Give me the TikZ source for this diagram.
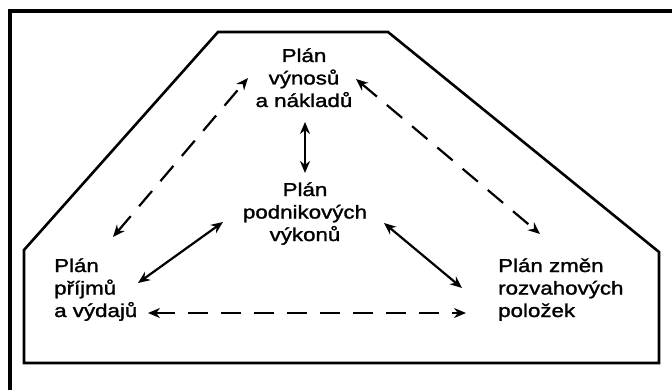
\documentclass[tikz,border=0pt]{standalone}
\usepackage{fontspec}
\setmainfont{Liberation Sans}[FakeStretch=1.2,FakeBold=1.5]
\usetikzlibrary{arrows.meta}

\begin{document}
\begin{tikzpicture}[
  x=1pt,y=-1pt,
  every node/.style={font=\fontsize{18.6}{22.5}\selectfont,inner sep=0pt},
  plan/.style={align=center,anchor=base},
  planl/.style={align=left,anchor=base west},
  arr/.style={{Stealth[length=12pt,width=10pt]}-{Stealth[length=12pt,width=10pt]},line width=2.2pt},
  darr/.style={arr,dash pattern=on 20pt off 13pt},
]
  \useasboundingbox (0,0) rectangle (672,390);

  % Frame (top and left edge)
  \draw[line width=3.8pt] (10,390) -- (10,11) -- (672,11);

  % House-shaped outline
  \draw[line width=2.6pt] (24,363) -- (24,250) -- (218,32) -- (388,32)
    -- (659,252) -- (659,363) -- cycle;

  % Plans (anchored on the baseline of the last line)
  \node[plan] (vynosy) at (304,107) {Plán\\výnosů\\a nákladů};
  \node[plan] (podnik) at (305,241) {Plán\\podnikových\\výkonů};
  \node[planl] (prijmy) at (54,317) {Plán\\příjmů\\a výdajů};
  \node[planl] (zmeny) at (498,317) {Plán změn\\rozvahových\\položek};

  % Arrow ends next to each plan
  \coordinate (vynosy-sw) at (248,78);
  \coordinate (vynosy-s)  at (305,122);
  \coordinate (vynosy-se) at (356,79);
  \coordinate (podnik-n)  at (305,173);
  \coordinate (podnik-sw) at (223,222);
  \coordinate (podnik-se) at (384,223);
  \coordinate (prijmy-n)  at (113,237);
  \coordinate (prijmy-ne) at (138,283);
  \coordinate (prijmy-e)  at (148,313);
  \coordinate (zmeny-n)   at (540,234);
  \coordinate (zmeny-nw)  at (462,288);
  \coordinate (zmeny-w)   at (466,313);

  % Links between plans
  \draw[arr] (vynosy-s) -- (podnik-n);
  \draw[arr] (podnik-sw) -- (prijmy-ne);
  \draw[arr] (podnik-se) -- (zmeny-nw);
  \draw[darr] (prijmy-n) -- (vynosy-sw);
  \draw[darr] (vynosy-se) -- (zmeny-n);
  \draw[darr] (prijmy-e) -- (zmeny-w);
\end{tikzpicture}
\end{document}
